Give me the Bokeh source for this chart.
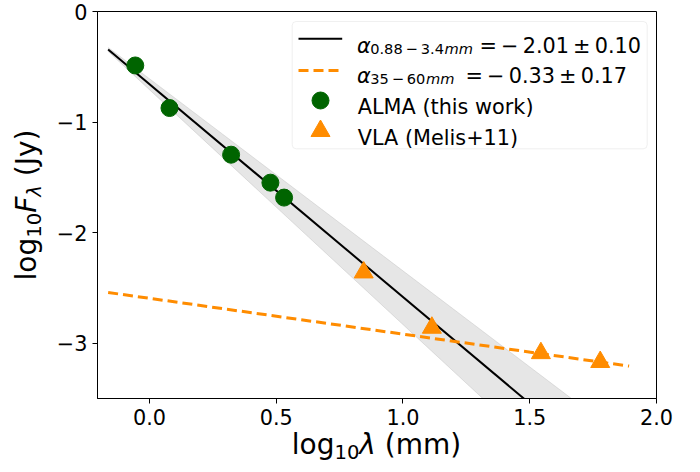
import numpy as np
from bokeh.plotting import figure
from bokeh.layouts import row, column
from bokeh.models import FixedTicker, BoxAnnotation, Label, Range1d, Div
from bokeh.embed import file_html
from bokeh.resources import INLINE

# ---------------- data ----------------
alma_logwl = [-0.056, 0.079, 0.322, 0.477, 0.531]
alma_logf = [-0.488, -0.873, -1.295, -1.548, -1.683]
vla_logwl = [0.845, 1.114, 1.544, 1.778]
vla_logf = [-2.36, -2.86, -3.09, -3.17]

fit_mm_x = [-0.163, 1.892]
fit_mm_y = [-0.343, -4.300]
fit_mm_lo = [-0.361, -4.726]
fit_mm_hi = [-0.325, -3.895]

fit_cm_x = [-0.163, 1.892]
fit_cm_y = [-2.541, -3.207]

xtick_vals = [0.0, 0.5, 1.0, 1.5, 2.0]
xtick_labels = ["0.0", "0.5", "1.0", "1.5", "2.0"]
ytick_vals = [-3, -2, -1, 0]
ytick_labels = ["\u22123", "\u22122", "\u22121", "0"]

leg_fit_mm_sub = "0.88\u2009\u2212\u20093.4"
leg_fit_mm_val = "=\u2009\u2212\u20092.01\u2009\u00b1\u20090.10"
leg_fit_cm_sub = "35\u2009\u2212\u200960"
leg_fit_cm_val = "=\u2009\u2212\u20090.33\u2009\u00b1\u20090.17"
leg_alma = "ALMA (this work)"
leg_vla = "VLA (Melis+11)"

GREEN = "#006400"
ORANGE = "#ff8c00"
FONT = "DejaVu Sans"

X0, X1 = -0.205, 2.0
Y0, Y1 = -3.5, 0.0

YDIV_W = 50          # column holding the y-axis title
P_H = 436            # figure height (frame + x tick labels)

p = figure(width=700 - YDIV_W, height=P_H, x_range=Range1d(X0, X1), y_range=Range1d(Y0, Y1),
           output_backend="svg", toolbar_location=None,
           min_border_left=97 - YDIV_W, min_border_right=44, min_border_top=11,
           min_border_bottom=P_H - 11 - 387)
p.xgrid.visible = False
p.ygrid.visible = False
p.outline_line_color = "black"
p.outline_line_width = 1
p.outline_line_alpha = 1
p.background_fill_color = "white"
p.border_fill_color = "white"

p.xaxis.ticker = FixedTicker(ticks=xtick_vals)
p.xaxis.major_label_overrides = dict(zip(xtick_vals, xtick_labels))
p.yaxis.ticker = FixedTicker(ticks=ytick_vals)
p.yaxis.major_label_overrides = dict(zip(ytick_vals, ytick_labels))
for ax in (p.xaxis[0], p.yaxis[0]):
    ax.axis_line_color = "black"
    ax.major_tick_line_color = "black"
    ax.major_tick_out = 5
    ax.major_tick_in = 0
    ax.minor_tick_line_color = None
    ax.major_label_text_font = FONT
    ax.major_label_text_font_size = "20.8px"
    ax.major_label_text_color = "black"
    ax.major_label_standoff = 5

# ---------------- data glyphs ----------------
p.varea(x=fit_mm_x, y1=fit_mm_lo, y2=fit_mm_hi, fill_color="gray", fill_alpha=0.2)
p.line(fit_mm_x, fit_mm_lo, line_color="gray", line_alpha=0.2, line_width=1)
p.line(fit_mm_x, fit_mm_hi, line_color="gray", line_alpha=0.2, line_width=1)
p.line(fit_mm_x, fit_mm_y, line_color="black", line_width=2)
p.line(fit_cm_x, fit_cm_y, line_color=ORANGE, line_width=3, line_dash="10 5")
p.scatter(alma_logwl, alma_logf, marker="circle", size=17, color=GREEN)
p.scatter(vla_logwl, vla_logf, marker="triangle", size=19, color=ORANGE)

# ---------------- layout helpers (reference pixel -> data space) ----------------
RL, RR, RT, RB = 97.0, 656.0, 11.0, 398.0


def rx(px):
    return X0 + (px - RL) / (RR - RL) * (X1 - X0)


def ry(py):
    return Y1 - (py - RT) / (RB - RT) * (Y1 - Y0)


def txt(px, py, s, size, style="normal"):
    p.add_layout(Label(x=rx(px), y=ry(py), text=s, text_font=FONT, text_font_size=size,
                       text_font_style=style, text_color="black", text_align="left",
                       text_baseline="alphabetic"))


# ---------------- legend ----------------
p.add_layout(BoxAnnotation(left=rx(291.7), right=rx(646.7), top=ry(21), bottom=ry(148.3),
                           fill_color="white", fill_alpha=0.8, line_color="#cccccc",
                           line_width=1, border_radius=4, level="underlay"))
p.line([rx(298), rx(341.7)], [ry(38.3), ry(38.3)], line_color="black", line_width=2)
p.line([rx(298), rx(341.7)], [ry(70), ry(70)], line_color=ORANGE, line_width=3, line_dash="10 5")
p.scatter([rx(320)], [ry(100)], marker="circle", size=17, color=GREEN)
p.scatter([rx(320)], [ry(130.5)], marker="triangle", size=19, color=ORANGE)

LS, SS = "20.8px", "14.6px"
txt(356.5, 45, "\u03b1", LS, "italic")
txt(369.7, 48, leg_fit_mm_sub, SS)
txt(444.0, 48, "mm", SS, "italic")
txt(479.0, 45, leg_fit_mm_val, LS)
txt(356.5, 75, "\u03b1", LS, "italic")
txt(369.7, 78, leg_fit_cm_sub, SS)
txt(425.5, 78, "mm", SS, "italic")
txt(465.0, 75, leg_fit_cm_val, LS)
txt(357.3, 106.7, leg_alma, LS)
txt(357.3, 137.7, leg_vla, LS)

# ---------------- axis titles as HTML text (sub/italic like mathtext) ----------------
FONT_CSS = "font-family:'DejaVu Sans'; font-size:28px; line-height:28px; color:black; white-space:nowrap;"
SUB = "font-size:19.6px; position:relative; top:5px;"

x_center = (RL + RR) / 2 - YDIV_W          # inside the x-title div
x_base_top = 455 - P_H - 23.7              # baseline at y=455 of the page
xtitle_html = (
    f'<div style="position:relative; width:{700 - YDIV_W}px; height:{472 - P_H}px;">'
    f'<div style="position:absolute; left:{x_center:.1f}px; top:{x_base_top:.1f}px; '
    f'transform:translateX(-50%); {FONT_CSS}">'
    f'log<span style="{SUB}">10</span><i>\u03bb</i> (mm)</div></div>'
)

y_center = (RT + RB) / 2
y_left = 37 - 23.7                          # baseline at x=37 of the page
ytitle_html = (
    f'<div style="position:relative; width:{YDIV_W}px; height:472px;">'
    f'<div style="position:absolute; left:{y_left:.1f}px; top:{y_center:.1f}px; '
    f'transform-origin:0 0; transform:rotate(-90deg) translateX(-50%); {FONT_CSS}">'
    f'log<span style="{SUB}">10</span><i>F</i><span style="{SUB}"><i>\u03bb</i></span>'
    f' (Jy)</div></div>'
)

xdiv = Div(text=xtitle_html, width=700 - YDIV_W, height=472 - P_H, margin=0,
           styles={"overflow": "visible"})
ydiv = Div(text=ytitle_html, width=YDIV_W, height=472, margin=0,
           styles={"overflow": "visible"})

layout = row(ydiv, column(p, xdiv, spacing=0), spacing=0)

open("out.html", "w").write(file_html(layout, INLINE))
